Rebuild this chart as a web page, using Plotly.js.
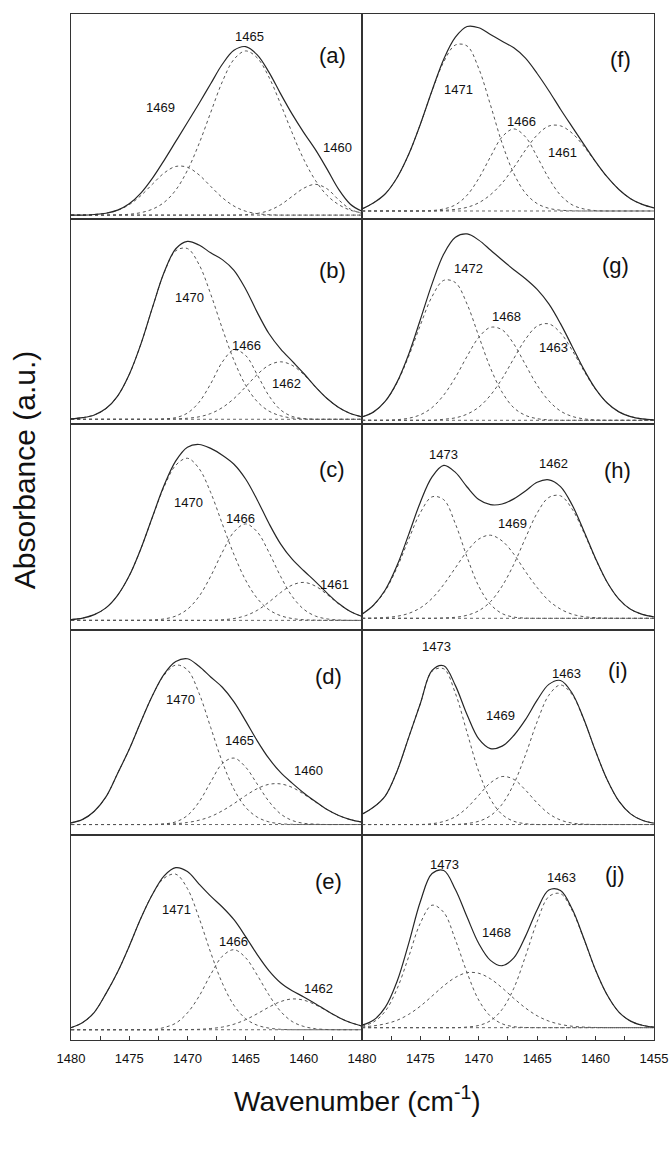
<!DOCTYPE html>
<html><head><meta charset="utf-8">
<script src="https://cdn.plot.ly/plotly-3.0.1.min.js"></script>
<style>html,body{margin:0;padding:0;background:#fff}#chart{width:670px;height:1152px}</style>
</head><body><div id="chart"></div>
<script>
// wavenumber grid (cm-1), left to right as drawn
const wn = [1480,1479,1478,1477,1476,1475,1474,1473,1472,1471,1470,1469,1468,1467,1466,1465,1464,1463,1462,1461,1460,1459,1458,1457,1456,1455];

const panelNames = ['(a)','(b)','(c)','(d)','(e)','(f)','(g)','(h)','(i)','(j)'];
const baselines = [2, 2.5, 4.5, 5, 5, 4, 2, 5.5, 5, 6];

// fitted component bands (absorbance, % of panel height)
const a1 = [0,0,0.3,0.9,2.3,5.1,9.5,15.1,20.5,23.7,23.3,19.6,14,8.5,4.4,1.9,0.7,0.2,0,0,0,0,0,0,0,0];
const a2 = [0,0,0,0,0.1,0.4,1.2,2.9,6.2,12.2,21.8,34.8,50,65,75.9,80,76.6,67.3,54.2,40.1,27.1,16.9,9.6,5.1,2.4,1.1];
const a3 = [0,0,0,0,0,0,0,0,0,0,0,0,0,0,0,0.2,0.8,2.2,5,9.1,13.1,15,12.8,7.4,2.9,0.8];

const b1 = [0.2,0.8,2.1,5.2,11.3,21.8,36.6,54.5,71.4,82.1,83.2,75.4,61,44.2,28.7,16.6,8.6,4,1.7,0.6,0.2,0,0,0,0,0];
const b2 = [0,0,0,0,0,0,0,0,0.2,0.8,3,8.3,17.3,27.9,33.8,31.1,21.7,11.5,4.6,1.4,0.3,0,0,0,0,0];
const b3 = [0,0,0,0,0,0,0,0,0,0.2,0.5,1.2,2.8,5.7,10.1,15.8,21.8,26.3,28,26.3,21.8,15.8,10.1,5.7,2.8,1.2];

const c1 = [0.4,1.1,2.8,6.1,12.2,21.7,34.9,50.3,65.1,75.6,79,74,62.3,47,32.1,19.6,10.7,5.2,2.3,0.9,0.3,0.1,0,0,0,0];
const c2 = [0,0,0,0,0,0,0,0.2,0.7,2.1,5.4,11.7,21.5,33.2,43.1,47,43.1,33.2,21.5,11.7,5.4,2.1,0.7,0.2,0,0];
const c3 = [0,0,0,0,0,0,0,0,0,0,0,0,0,0.3,0.9,2.3,4.9,8.9,13.5,17.2,18.5,16.7,12.6,8,4.3,1.9];

const d1 = [0.8,2.5,6.5,13.5,24.9,36.7,50.1,62.9,72.8,77.7,75.4,64,47.3,30.5,17.2,8.4,3.6,1.3,0.4,0.1,0,0,0,0,0,0];
const d2 = [0,0,0,0,0,0,0,0,0.3,1.3,4.4,11,20.7,29.7,32.4,28,19.7,11.3,5.2,2,0.6,0.2,0,0,0,0];
const d3 = [0,0,0,0,0,0,0,0,0.2,0.4,1,2.1,3.9,6.7,10.2,14.1,17.5,19.6,19.8,18.1,14.8,11,7.3,4.4,2.4,1.2];

const e1 = [1,3.5,8.5,17.6,28.1,40.7,54.3,66,73.9,75.8,68.8,54.5,37.6,22.7,11.9,5.4,2.2,0.8,0.2,0,0,0,0,0,0,0];
const e2 = [0,0,0,0,0,0,0,0,1.1,3.2,8.2,16.3,26.9,35.8,39,35.1,26.6,17,9,4,1.6,0.5,0.1,0,0,0];
const e3 = [0,0,0,0,0,0,0,0,0,0,0.1,0.2,0.6,1.3,2.7,4.9,7.8,11,13.7,15,14.4,12.2,9.1,6,3.5,1.8];

const f1 = [1,4,8.4,16.2,27.6,42.3,58.5,72.7,80.9,80.4,69.4,51.7,33,18.3,8.7,3.6,1.3,0.4,0.1,0,0,0,0,0,0,0];
const f2 = [0,0,0,0,0,0,0.2,1,3,7.7,15.9,26.4,36.1,40,36.1,26.4,15.9,7.7,3,1,0.2,0,0,0,0,0];
const f3 = [0,0,0,0,0,0,0,0.3,0.8,1.8,4,7.9,13.6,21.2,29.7,37,41.4,41.5,37.9,31.5,23.9,16.6,10.5,6,3.2,1.5];

const g1 = [1.6,4.1,9.3,18.3,31.2,46.4,60.3,68.2,67.1,56.6,41,25.5,13.7,6.1,2.4,0.8,0.2,0,0,0,0,0,0,0,0,0];
const g2 = [0,0,0,0.3,1,2.7,6.2,12.3,20.9,31.2,40.4,45.3,44.1,37.2,27.1,17.1,9.5,4.5,1.9,0.7,0.2,0,0,0,0,0];
const g3 = [0,0,0,0,0,0,0,0.5,1.2,3,6.4,12.2,20.3,30.1,39.5,45.9,47,42.6,34.1,24.1,15.1,8.4,4.1,1.8,0.7,0.2];

const h1 = [2,6.4,13.5,24.7,38.5,51.5,59.2,57.8,46,29.8,15.6,6.8,2.3,0.6,0.1,0,0,0,0,0,0,0,0,0,0,0];
const h2 = [0,0.1,0.4,1,2.4,5.1,9.7,16.5,24.6,32.7,38.6,40.5,37.7,31.3,22.8,15,8.6,4.5,2,0.8,0.3,0.1,0,0,0,0];
const h3 = [0,0,0,0,0,0,0,0.2,0.5,1.5,3.7,8.1,15.7,26.3,39.1,51.3,58.9,59.7,53.2,41.8,28.9,17.5,9.4,4.4,1.9,0.7];

const i1 = [5,8.5,14,26,42.5,59,74.7,75.9,63.9,44.8,25.8,12.4,4.9,1.6,0.4,0,0,0,0,0,0,0,0,0,0,0];
const i2 = [0,0,0,0,0,0,0.4,1.5,3.8,8.2,14.3,20.3,23.4,22,16.8,10.5,5.3,2.2,0.7,0.2,0,0,0,0,0,0];
const i3 = [0,0,0,0,0,0,0,0,0,0.5,1.6,4.3,9.9,19.8,33.9,50.1,63,68,63.3,51.1,35.8,21.8,11.4,5.2,2.1,0.7];

const j1 = [0.8,2.8,8.1,18.9,34.6,51,59.7,56.2,42.8,26.8,13.4,5.6,1.9,0.5,0.1,0,0,0,0,0,0,0,0,0,0,0];
const j2 = [0.4,0.9,1.9,3.6,6.5,10.5,15.4,20.4,24.5,26.8,26.5,23.8,19.4,14.3,9.6,5.8,3.2,1.6,0.7,0.3,0.1,0,0,0,0,0];
const j3 = [0,0,0,0,0,0,0,0,0,0.3,1.1,3.4,8.9,19.2,34.8,51.7,63.9,65.3,57.1,43.2,28,15.9,7.6,3.2,1.2,0.3];

const components = [[a1,a2,a3],[b1,b2,b3],[c1,c2,c3],[d1,d2,d3],[e1,e2,e3],
                    [f1,f2,f3],[g1,g2,g3],[h1,h2,h3],[i1,i2,i3],[j1,j2,j3]];

const peakLabels = [['1469','1465','1460'],['1470','1466','1462'],['1470','1466','1461'],
                    ['1470','1465','1460'],['1471','1466','1462'],['1471','1466','1461'],
                    ['1472','1468','1463'],['1473','1469','1462'],['1473','1469','1463'],
                    ['1473','1468','1463']];

const tickValsLeft = [1480,1475,1470,1465,1460];
const tickTextLeft = ['1480','1475','1470','1465','1460'];
const tickValsRight = [1480,1475,1470,1465,1460,1455];
const tickTextRight = ['1480','1475','1470','1465','1460','1455'];

// ---------- layout (positions / styles) ----------
const labelPos = [
  [[1472.3,54.6],[1464.7,89],[1457.1,35],[1457.5,80]],
  [[1469.8,62],[1464.9,38.5],[1461.5,20],[1457.5,75]],
  [[1469.9,62],[1465.4,54],[1457.4,22],[1457.6,78]],
  [[1470.6,66],[1465.5,46],[1459.6,31.5],[1457.9,77]],
  [[1470.9,63.4],[1466,48],[1458.7,25],[1457.9,77]],
  [[1471.7,63],[1466.3,47.6],[1462.8,32.7],[1457.9,77.7]],
  [[1470.9,76],[1467.6,52.8],[1463.6,37.4],[1458.3,77.2]],
  [[1473,85.5],[1467.1,51.9],[1463.6,81],[1458.1,77.5]],
  [[1473.6,91.6],[1468.1,58.2],[1462.5,78.4],[1458.1,80]],
  [[1472.9,85.5],[1468.5,52.3],[1462.9,79],[1458.3,80.5]]
];

const FONT = '"Liberation Sans", Arial, Helvetica, sans-serif';
const INK = '#262626';
const xDomL = [0.106, 0.5403], xDomR = [0.5403, 0.976];
const yTop = 0.98785, rowH = 0.178125;

const traces = [];
const layout = {
  width: 670, height: 1152, autosize: false,
  margin: {l: 0, r: 0, t: 0, b: 0},
  paper_bgcolor: '#fff', plot_bgcolor: '#fff',
  showlegend: false,
  font: {family: FONT, color: INK},
  annotations: []
};

for (let k = 0; k < 10; k++) {
  const n = k + 1;
  const sx = n === 1 ? '' : String(n);
  const col = Math.floor(k / 5), row = k % 5;
  const bl = baselines[k];
  const comps = components[k];
  const base = wn.map(() => bl);
  const total = wn.map((_, i) => bl + comps[0][i] + comps[1][i] + comps[2][i]);

  traces.push({x: wn, y: base, xaxis: 'x' + sx, yaxis: 'y' + sx, mode: 'lines',
    line: {color: '#666', width: 1, dash: 'dot'}, hoverinfo: 'skip'});
  comps.forEach(c => traces.push({x: wn, y: c.map(v => v + bl), xaxis: 'x' + sx, yaxis: 'y' + sx,
    mode: 'lines', line: {color: '#555', width: 1, dash: 'dot', shape: 'spline', smoothing: 1}, hoverinfo: 'skip'}));
  traces.push({x: wn, y: total, xaxis: 'x' + sx, yaxis: 'y' + sx, mode: 'lines',
    line: {color: INK, width: 1.2, shape: 'spline', smoothing: 1}, hoverinfo: 'skip'});

  const bottom = row === 4;
  layout['xaxis' + sx] = {
    domain: col === 0 ? xDomL : xDomR,
    range: [1480, 1455], anchor: 'y' + sx,
    showline: true, mirror: true, linecolor: '#333', linewidth: 1,
    showgrid: false, zeroline: false,
    ticks: bottom ? 'inside' : '', ticklen: 4, tickcolor: '#333',
    tickmode: 'array',
    tickvals: col === 0 ? tickValsLeft : tickValsRight,
    ticktext: col === 0 ? tickTextLeft : tickTextRight,
    minor: bottom ? {ticks: 'inside', ticklen: 4, tickcolor: '#333', tick0: 1480, dtick: 2.5, showgrid: false} : {ticks: ''},
    showticklabels: bottom, ticklabelstandoff: 6,
    tickfont: {family: FONT, size: 13, color: '#111'}
  };
  layout['yaxis' + sx] = {
    domain: [yTop - (row + 1) * rowH, yTop - row * rowH],
    range: [0, 100], anchor: 'x' + sx,
    showline: true, mirror: true, linecolor: '#333', linewidth: 1,
    showgrid: false, zeroline: false, ticks: '', showticklabels: false
  };

  const pos = labelPos[k];
  peakLabels[k].forEach((t, m) => layout.annotations.push({
    text: t, x: pos[m][0], y: pos[m][1], xref: 'x' + sx, yref: 'y' + sx,
    xanchor: 'center', yanchor: 'middle',
    showarrow: false, font: {family: FONT, size: 13, color: '#111'}
  }));
  layout.annotations.push({
    text: panelNames[k], x: pos[3][0], y: pos[3][1], xref: 'x' + sx, yref: 'y' + sx,
    xanchor: 'center', yanchor: 'middle',
    showarrow: false, font: {family: FONT, size: 22, color: '#111'}
  });
}

layout.annotations.push({
  text: 'Absorbance (a.u.)', textangle: -90, x: 0.036, y: 0.592, xref: 'paper', yref: 'paper',
  xanchor: 'center', yanchor: 'middle',
  showarrow: false, font: {family: FONT, size: 30, color: '#111'}
});
layout.annotations.push({
  text: 'Wavenumber (cm<sup>-1</sup>)', x: 0.533, y: 0.046, xref: 'paper', yref: 'paper',
  xanchor: 'center', yanchor: 'middle',
  showarrow: false, font: {family: FONT, size: 28, color: '#111'}
});

Plotly.newPlot('chart', traces, layout, {staticPlot: true, displayModeBar: false});
</script></body></html>
